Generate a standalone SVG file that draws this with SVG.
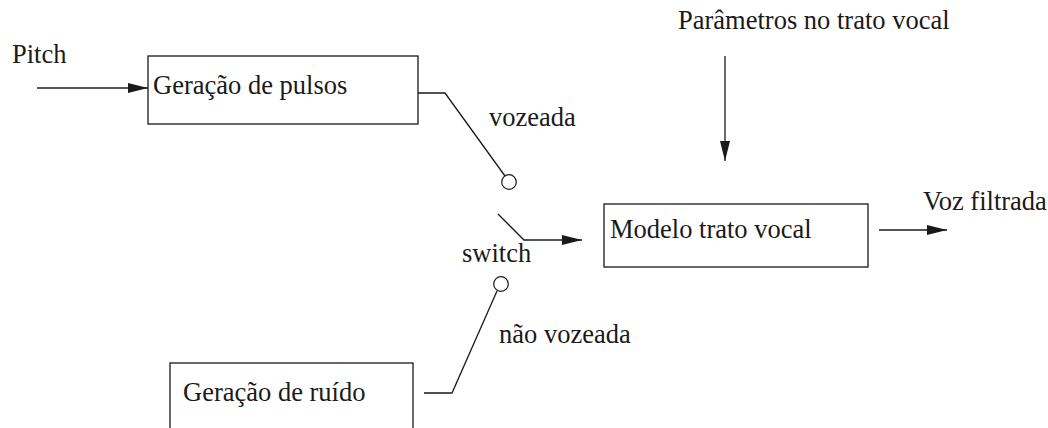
<svg xmlns="http://www.w3.org/2000/svg" width="1048" height="428" viewBox="0 0 1048 428">
<style>
text{font-family:"Liberation Serif","Times New Roman",serif;font-size:26.5px;fill:#1a1a1a}
.box{fill:#fff;stroke:#1a1a1a;stroke-width:1.3}
.ln{fill:none;stroke:#1a1a1a;stroke-width:1.3}
.arr{marker-end:url(#ah)}
.pin{fill:#fff;stroke:#1a1a1a;stroke-width:1.2}
</style>
<defs>
<marker id="ah" markerUnits="userSpaceOnUse" markerWidth="20" markerHeight="10" viewBox="0 0 18 9" refX="18" refY="4.5" orient="auto">
<path d="M0,0 L18,4.5 L0,9 Z" fill="#1a1a1a"/>
</marker>
</defs>
<rect width="1048" height="428" fill="#fff"/>
<g id="labels">
<text x="12" y="63">Pitch</text>
<text x="678" y="29">Parâmetros no trato vocal</text>
<text x="923" y="210">Voz filtrada</text>
<text x="489" y="126">vozeada</text>
<text x="462" y="262">switch</text>
<text x="499" y="343">não vozeada</text>
</g>
<g id="pulsos">
<rect class="box" x="148" y="56" width="270" height="68"/>
<text x="153" y="94">Geração de pulsos</text>
</g>
<g id="ruido">
<rect class="box" x="170" y="363" width="243" height="70"/>
<text x="183" y="401">Geração de ruído</text>
</g>
<g id="modelo">
<rect class="box" x="604" y="204" width="264" height="63"/>
<text x="610" y="238">Modelo trato vocal</text>
</g>
<g id="switch">
<circle class="pin" cx="509" cy="182" r="7.3"/>
<circle class="pin" cx="501" cy="284" r="7.3"/>
</g>
<g id="connectors">
<line class="ln arr" x1="37" y1="88" x2="148" y2="88"/>
<polyline class="ln" points="418,93 445,93 505,176"/>
<polyline class="ln arr" points="498,214 524,240 582,240"/>
<polyline class="ln" points="497,291 452,393 424,393"/>
<line class="ln arr" x1="725" y1="56" x2="725" y2="161"/>
<line class="ln arr" x1="879" y1="230" x2="947" y2="230"/>
</g>
</svg>
